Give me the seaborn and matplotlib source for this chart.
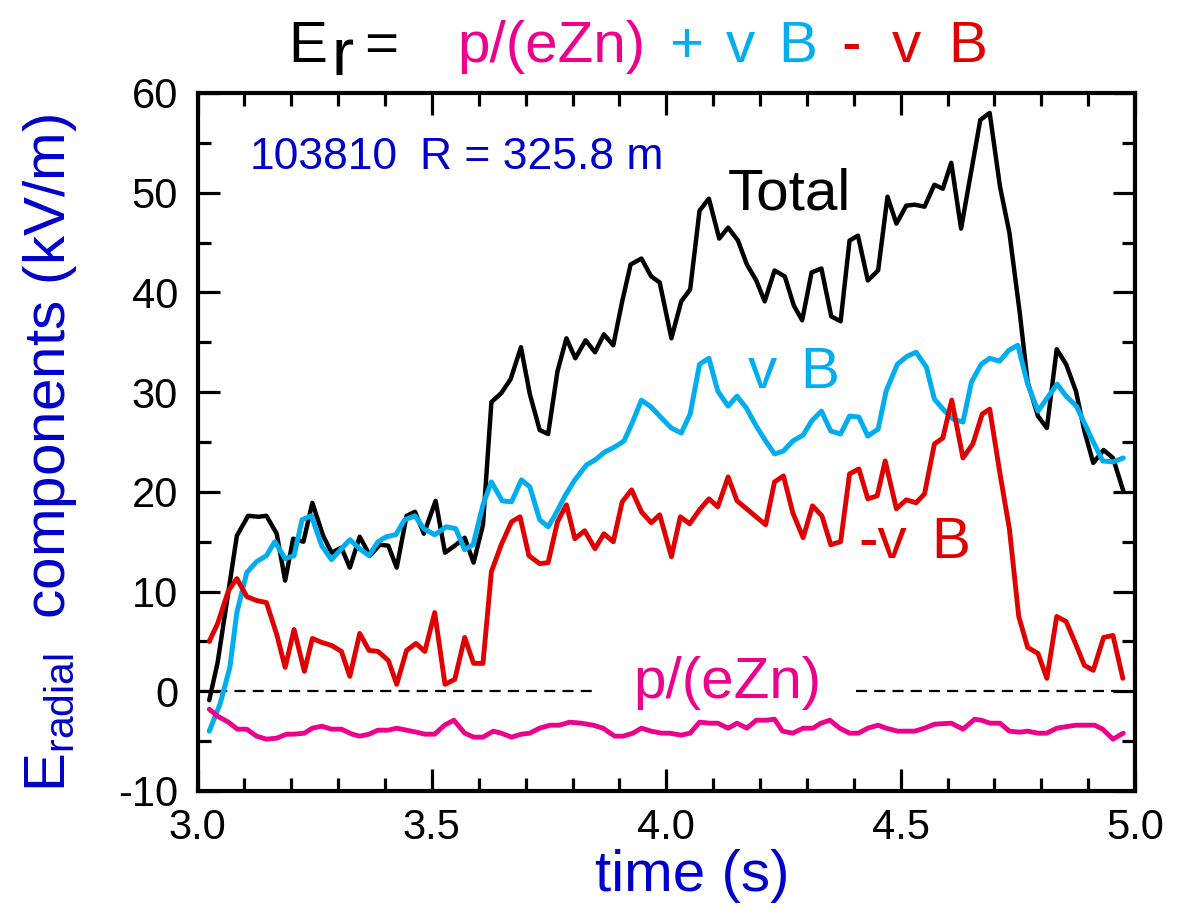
import numpy as np
import matplotlib
matplotlib.use("Agg")
import matplotlib.pyplot as plt
from matplotlib.ticker import MultipleLocator, FormatStrFormatter
import seaborn as sns

# ---------------- data ----------------
total_t = [3.025, 3.043, 3.084, 3.108, 3.130, 3.147, 3.169, 3.187, 3.204, 3.226, 3.245, 3.268, 3.286, 3.307,
           3.325, 3.346, 3.368, 3.389, 3.407, 3.425, 3.446, 3.464, 3.483, 3.508, 3.528, 3.549, 3.570, 3.589,
           3.609, 3.627, 3.648, 3.668, 3.690, 3.709, 3.730, 3.748, 3.768, 3.787, 3.806, 3.828, 3.848, 3.867,
           3.887, 3.906, 3.924, 3.947, 3.968, 3.986, 4.011, 4.032, 4.051, 4.071, 4.091, 4.113, 4.132, 4.153,
           4.172, 4.192, 4.210, 4.231, 4.253, 4.272, 4.290, 4.310, 4.331, 4.352, 4.372, 4.391, 4.409, 4.430,
           4.452, 4.472, 4.491, 4.512, 4.530, 4.551, 4.572, 4.590, 4.608, 4.629, 4.670, 4.690, 4.712, 4.732,
           4.754, 4.771, 4.793, 4.812, 4.833, 4.853, 4.874, 4.892, 4.911, 4.933, 4.953, 4.975]
total_v = [-0.9, 2.9, 15.6, 17.6, 17.5, 17.6, 15.8, 11.1, 15.3, 15.0, 18.9, 15.6, 13.9, 14.4,
           12.4, 15.5, 13.6, 14.7, 14.6, 12.4, 17.6, 18.0, 15.8, 19.1, 13.9, 14.6, 15.4, 12.9,
           16.7, 29.0, 29.9, 31.3, 34.5, 29.8, 26.2, 25.8, 32.1, 35.4, 33.4, 35.2, 34.0, 35.8,
           34.7, 39.1, 42.8, 43.4, 41.6, 41.0, 35.4, 39.1, 40.3, 48.2, 49.4, 45.4, 46.5, 45.2,
           42.8, 41.2, 39.1, 42.2, 41.6, 38.7, 37.2, 42.0, 42.4, 37.6, 37.1, 45.2, 45.7, 41.2,
           42.2, 49.6, 46.9, 48.7, 48.8, 48.6, 50.8, 50.4, 53.0, 46.4, 57.3, 58.0, 50.6, 46.0,
           38.0, 31.0, 27.6, 26.4, 34.3, 32.8, 30.1, 26.1, 22.9, 24.2, 23.4, 20.1]

vb_t = [3.025, 3.048, 3.069, 3.084, 3.105, 3.126, 3.147, 3.165, 3.187, 3.206, 3.223, 3.243, 3.265, 3.286,
        3.307, 3.325, 3.346, 3.366, 3.385, 3.403, 3.423, 3.442, 3.464, 3.483, 3.506, 3.531, 3.551, 3.570,
        3.588, 3.609, 3.627, 3.650, 3.670, 3.691, 3.709, 3.730, 3.748, 3.762, 3.784, 3.805, 3.830, 3.848,
        3.869, 3.890, 3.910, 3.929, 3.947, 3.968, 3.986, 4.011, 4.032, 4.051, 4.071, 4.091, 4.110, 4.132,
        4.151, 4.171, 4.192, 4.212, 4.231, 4.250, 4.270, 4.292, 4.310, 4.331, 4.351, 4.372, 4.391, 4.411,
        4.430, 4.452, 4.469, 4.493, 4.514, 4.533, 4.555, 4.572, 4.594, 4.612, 4.633, 4.651, 4.672, 4.690,
        4.711, 4.731, 4.750, 4.771, 4.793, 4.814, 4.834, 4.853, 4.875, 4.893, 4.910, 4.931, 4.953, 4.975]
vb_v = [-4.0, -1.3, 2.4, 7.9, 11.9, 13.0, 13.6, 15.0, 13.3, 13.6, 17.2, 17.6, 14.6, 13.2,
        14.3, 15.2, 14.3, 13.6, 15.0, 15.5, 15.7, 17.2, 17.6, 16.3, 15.7, 16.5, 16.3, 14.2,
        14.7, 18.7, 21.0, 19.1, 19.0, 21.2, 20.5, 17.2, 16.5, 17.6, 19.6, 21.2, 22.7, 23.2,
        24.0, 24.5, 25.1, 27.1, 29.2, 28.5, 27.6, 26.4, 25.9, 27.8, 32.8, 33.4, 30.1, 28.6,
        29.6, 28.4, 26.6, 25.1, 23.8, 24.1, 25.1, 25.7, 27.1, 28.1, 26.1, 25.8, 27.6, 27.5,
        25.6, 26.3, 30.1, 32.8, 33.6, 34.0, 32.5, 29.3, 28.1, 27.3, 27.0, 31.0, 32.8, 33.4,
        33.1, 34.2, 34.7, 30.8, 28.1, 29.5, 30.8, 29.6, 28.6, 26.8, 25.1, 23.1, 23.0, 23.4]

mvb_t = [3.025, 3.043, 3.066, 3.084, 3.105, 3.126, 3.147, 3.169, 3.187, 3.206, 3.228, 3.245, 3.265, 3.286,
         3.307, 3.325, 3.346, 3.366, 3.385, 3.407, 3.425, 3.446, 3.466, 3.485, 3.506, 3.528, 3.549, 3.570,
         3.589, 3.609, 3.627, 3.648, 3.670, 3.688, 3.707, 3.730, 3.748, 3.768, 3.787, 3.805, 3.826, 3.848,
         3.867, 3.887, 3.906, 3.926, 3.947, 3.968, 3.986, 4.011, 4.030, 4.050, 4.071, 4.091, 4.110, 4.132,
         4.151, 4.212, 4.231, 4.250, 4.270, 4.292, 4.312, 4.332, 4.351, 4.372, 4.391, 4.411, 4.430, 4.450,
         4.467, 4.491, 4.512, 4.533, 4.551, 4.572, 4.590, 4.609, 4.633, 4.654, 4.674, 4.690, 4.712, 4.732,
         4.752, 4.771, 4.793, 4.812, 4.833, 4.853, 4.873, 4.892, 4.911, 4.933, 4.953, 4.974]
mvb_v = [5.0, 6.8, 10.1, 11.3, 9.5, 9.1, 8.9, 5.7, 2.4, 6.2, 2.0, 5.3, 4.9, 4.6,
         4.0, 1.5, 5.8, 4.1, 4.0, 3.1, 0.7, 4.1, 4.8, 4.0, 7.9, 0.7, 1.2, 5.4,
         2.8, 2.8, 12.0, 14.7, 17.0, 17.5, 13.6, 12.8, 12.9, 17.0, 18.7, 15.3, 16.1, 14.3,
         15.8, 15.0, 19.0, 20.2, 18.0, 16.9, 17.7, 13.5, 17.5, 16.8, 18.2, 19.3, 18.5, 21.5,
         19.1, 16.7, 21.0, 21.6, 17.9, 15.4, 18.6, 17.6, 14.7, 15.0, 21.8, 22.3, 19.3, 19.6,
         23.1, 18.3, 19.2, 18.9, 19.8, 24.8, 25.4, 29.2, 23.4, 24.8, 27.8, 28.3, 21.8, 16.3,
         7.5, 4.4, 3.8, 1.3, 7.5, 7.0, 4.8, 2.6, 2.1, 5.4, 5.6, 1.3]

dia_t = [3.025, 3.043, 3.066, 3.085, 3.105, 3.126, 3.147, 3.169, 3.190, 3.206, 3.228, 3.245, 3.265, 3.286,
         3.307, 3.330, 3.346, 3.366, 3.385, 3.407, 3.425, 3.446, 3.467, 3.485, 3.506, 3.527, 3.547, 3.570,
         3.589, 3.609, 3.631, 3.648, 3.670, 3.691, 3.709, 3.730, 3.752, 3.772, 3.794, 3.819, 3.844, 3.865,
         3.890, 3.908, 3.929, 3.947, 3.968, 3.990, 4.007, 4.032, 4.051, 4.071, 4.093, 4.110, 4.132, 4.151,
         4.172, 4.192, 4.213, 4.231, 4.248, 4.270, 4.292, 4.313, 4.330, 4.349, 4.370, 4.391, 4.410, 4.430,
         4.452, 4.469, 4.494, 4.530, 4.551, 4.572, 4.608, 4.633, 4.658, 4.672, 4.691, 4.712, 4.732, 4.754,
         4.771, 4.793, 4.812, 4.833, 4.874, 4.914, 4.931, 4.953, 4.975]
dia_v = [-1.8, -2.5, -3.1, -3.8, -3.8, -4.5, -4.8, -4.7, -4.3, -4.3, -4.2, -3.7, -3.5, -3.8,
         -3.8, -4.3, -4.5, -4.3, -3.9, -3.9, -3.7, -3.9, -4.1, -4.3, -4.3, -3.4, -2.9, -4.2,
         -4.6, -4.6, -4.0, -4.2, -4.6, -4.3, -4.2, -3.7, -3.4, -3.4, -3.1, -3.2, -3.4, -3.7,
         -4.5, -4.5, -4.2, -3.7, -4.0, -4.2, -4.2, -4.4, -4.2, -3.1, -3.2, -3.2, -3.7, -3.2,
         -3.7, -2.9, -2.9, -2.8, -4.0, -4.2, -3.7, -3.7, -3.2, -2.9, -3.7, -4.2, -4.2, -3.7,
         -3.4, -3.7, -4.0, -4.0, -3.7, -3.3, -3.2, -3.8, -2.8, -2.9, -3.2, -3.2, -4.0, -4.1,
         -4.0, -4.2, -4.2, -3.7, -3.4, -3.4, -3.8, -4.8, -4.2]

zero_left = [3.0, 3.841]
zero_right = [4.405, 4.957]

x_ticks = [3.0, 3.5, 4.0, 4.5, 5.0]
y_ticks = [-10, 0, 10, 20, 30, 40, 50, 60]

# ---------------- styling ----------------
sns.set_style("ticks")
plt.rcParams['font.family'] = ['Liberation Sans', 'DejaVu Sans']
plt.rcParams['axes.unicode_minus'] = False
plt.rcParams['mathtext.fontset'] = 'custom'
plt.rcParams['mathtext.rm'] = 'Liberation Sans'
plt.rcParams['axes.edgecolor'] = 'black'
plt.rcParams['xtick.color'] = 'black'
plt.rcParams['ytick.color'] = 'black'

C_BLACK = "#000000"
C_CYAN = "#00AEEF"
C_RED = "#E00000"
C_MAG = "#EC008C"
C_BLUE = "#0000CC"

W, H = 1179, 922
fig = plt.figure(figsize=(W / 100, H / 100), dpi=100)
ax = fig.add_axes([197.5 / W, 1 - 791 / H, (1135 - 197.5) / W, (791 - 93) / H])

# zero reference (dashed, with a gap for the label)
for seg in (zero_left, zero_right):
    ax.plot(seg, [0, 0], color="black", lw=1.6, dashes=(5.0, 3.2), zorder=1)

sns.lineplot(x=total_t, y=total_v, ax=ax, color=C_BLACK, linewidth=3.2, sort=False, estimator=None, zorder=2)
sns.lineplot(x=vb_t, y=vb_v, ax=ax, color=C_CYAN, linewidth=3.6, sort=False, estimator=None, zorder=3)
sns.lineplot(x=mvb_t, y=mvb_v, ax=ax, color=C_RED, linewidth=3.5, sort=False, estimator=None, zorder=4)
sns.lineplot(x=dia_t, y=dia_v, ax=ax, color=C_MAG, linewidth=3.5, sort=False, estimator=None, zorder=5)

ax.set_xlim(3.0, 5.0)
ax.set_ylim(-10, 60)
ax.set_xticks(x_ticks)
ax.set_yticks(y_ticks)
ax.xaxis.set_minor_locator(MultipleLocator(0.1))
ax.yaxis.set_minor_locator(MultipleLocator(5))
ax.xaxis.set_major_formatter(FormatStrFormatter('%.1f'))
ax.yaxis.set_major_formatter(FormatStrFormatter('%d'))
ax.tick_params(which='both', direction='in', top=True, right=True, width=2.3, colors='black')
ax.tick_params(which='major', length=15.8, labelsize=30)
ax.tick_params(which='minor', length=9.4)
ax.tick_params(axis='y', which='major', pad=14)
ax.tick_params(axis='x', which='major', pad=12)
for sp in ax.spines.values():
    sp.set_linewidth(3.0)
    sp.set_color('black')
    sp.set_visible(True)
ax.set_xlabel("")
ax.set_ylabel("")

# in-plot labels
ax.text(3.112, 52.4, "103810", color=C_BLUE, fontsize=32, ha='left', va='baseline')
ax.text(3.474, 52.4, "R = 325.8 m", color=C_BLUE, fontsize=32, ha='left', va='baseline')
ax.text(4.131, 48.3, "Total", color=C_BLACK, fontsize=42, ha='left', va='baseline')
ax.text(4.174, 30.4, "v", color=C_CYAN, fontsize=42, ha='left', va='baseline')
ax.text(4.285, 30.4, "B", color=C_CYAN, fontsize=42, ha='left', va='baseline')
ax.text(4.410, 13.4, "-v", color=C_RED, fontsize=42, ha='left', va='baseline')
ax.text(4.566, 13.4, "B", color=C_RED, fontsize=42, ha='left', va='baseline')
ax.text(3.929, -0.7, "p/(eZn)", color=C_MAG, fontsize=42, ha='left', va='baseline')

# title pieces
def ftext(xpx, ypx, s, color, size=42):
    fig.text(xpx / W, 1 - ypx / H, s, color=color, fontsize=size, ha='left', va='baseline')

ftext(288, 62, "E", C_BLACK)
ftext(332, 75, "r", C_BLACK, size=48)
ftext(364, 62, "=", C_BLACK)
ftext(457, 62, "p/(eZn)", C_MAG)
ftext(669, 62, "+", C_CYAN)
ftext(726, 62, "v", C_CYAN)
ftext(778, 62, "B", C_CYAN)
ftext(841, 62, "-", C_RED)
ftext(892, 62, "v", C_RED)
ftext(948, 62, "B", C_RED)

# axis labels
fig.text(692 / W, 1 - 891 / H, "time (s)", color=C_BLUE, fontsize=42, ha='center', va='baseline')
fig.text(65 / W, 1 - 792 / H, r"E$_\mathregular{radial}$  components (kV/m)", color=C_BLUE,
         fontsize=42, rotation=90, rotation_mode='anchor', ha='left', va='baseline')

fig.savefig("out.png", dpi=100)
